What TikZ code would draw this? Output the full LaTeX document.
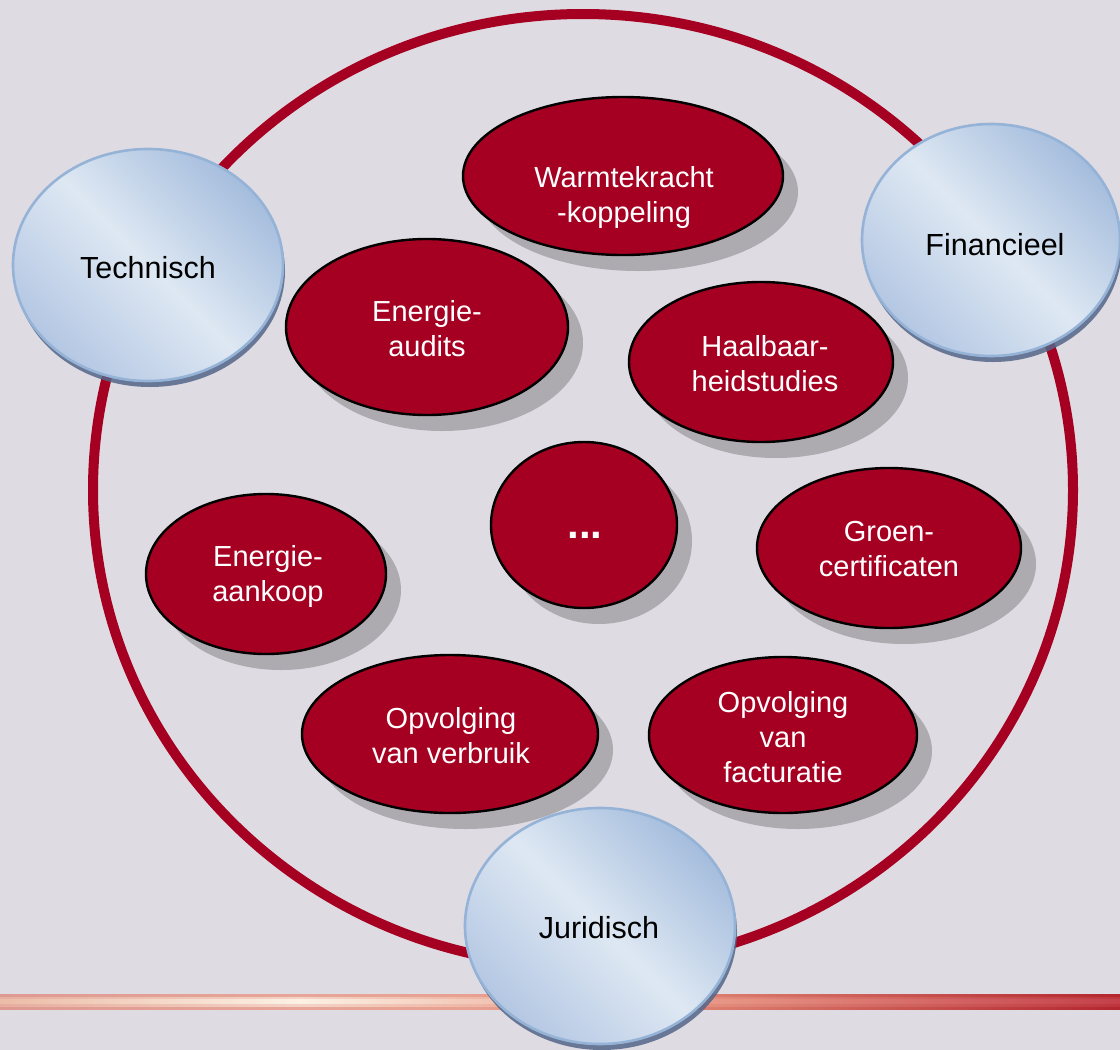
\documentclass[tikz,border=0pt]{standalone}
\usepackage{fontspec}
\setmainfont{Liberation Sans}
\usetikzlibrary{shapes.geometric,shadows}
\definecolor{bg}{RGB}{222,219,226}
\definecolor{ruby}{RGB}{165,0,33}
\definecolor{shadowgray}{RGB}{173,171,175}
\definecolor{bluebord}{RGB}{149,179,215}
\definecolor{blueA}{RGB}{165,189,221}
\definecolor{blueB}{RGB}{222,232,243}
\definecolor{blueC}{RGB}{180,199,227}
\definecolor{blueshadow}{RGB}{84,102,136}
\definecolor{oA}{RGB}{222,154,146}
\definecolor{oB}{RGB}{231,166,152}
\definecolor{oC}{RGB}{232,160,144}
\definecolor{oD}{RGB}{221,128,112}
\definecolor{oE}{RGB}{179,38,46}
\definecolor{iA}{RGB}{236,188,168}
\definecolor{iB}{RGB}{252,241,228}
\definecolor{iC}{RGB}{243,200,184}
\definecolor{iD}{RGB}{233,154,136}
\definecolor{iE}{RGB}{196,64,74}
\pgfdeclarehorizontalshading{barouter}{100bp}{color(0bp)=(oA); color(25bp)=(oA); color(38.4bp)=(oB); color(46bp)=(oC); color(56.25bp)=(oD); color(75bp)=(oE); color(100bp)=(oE)}
\pgfdeclarehorizontalshading{barinner}{100bp}{color(0bp)=(iA); color(25bp)=(iA); color(38.4bp)=(iB); color(46bp)=(iC); color(56.25bp)=(iD); color(75bp)=(iE); color(100bp)=(iE)}
\tikzset{
  redell/.style={ellipse, draw=black, line width=2.4pt, fill=ruby, inner sep=0pt,
    drop shadow={shadow xshift=15pt, shadow yshift=-16pt, fill=shadowgray, opacity=1}},
  redtxt/.style={text=white, align=center, inner sep=0pt,
    font=\fontsize{29}{35}\selectfont},
  bluell/.style={ellipse, draw=bluebord, line width=2.6pt, inner sep=0pt,
    top color=blueA, bottom color=blueC, middle color=blueB, shading angle=-45,
    drop shadow={shadow xshift=2pt, shadow yshift=-6pt, fill=blueshadow, opacity=0.85}},
  bluetxt/.style={text=black, inner sep=0pt, font=\fontsize{30.5}{36}\selectfont},
}
\begin{document}
\begin{tikzpicture}[x=1pt,y=-1pt]
\fill[bg] (0,0) rectangle (1120,1050);
\useasboundingbox (0,0) rectangle (1120,1050);
% decorative bar
\shade[shading=barouter] (0,994) rectangle (1120,1009);
\shade[shading=barinner, opacity=0.6] (0,997) rectangle (1120,1006);
\shade[shading=barinner] (0,999.5) rectangle (1120,1003.5);
% ring
\draw[ruby, line width=10pt] (583,490) ellipse [x radius=490pt, y radius=476pt];
% red ellipses
\node[redell, minimum width=320pt, minimum height=158pt] (e1) at (623,176) {};
\node[redtxt] (t1) at (624,197) {Warmtekracht\\-koppeling};
\node[redell, minimum width=282pt, minimum height=176pt] (e2) at (427,327) {};
\node[redtxt] (t2) at (427,329) {Energie-\\audits};
\node[redell, minimum width=264pt, minimum height=160pt] (e3) at (761,362) {};
\node[redtxt] (t3) at (765,364) {Haalbaar-\\heidstudies};
\node[redell, minimum width=186pt, minimum height=166pt] (e4) at (584,525) {};
\node[redtxt, anchor=base, font=\fontsize{42}{48}\selectfont\bfseries] (t4) at (585,538) {...};
\node[redell, minimum width=264pt, minimum height=160pt] (e5) at (889,548) {};
\node[redtxt] (t5) at (889,549) {Groen-\\certificaten};
\node[redell, minimum width=240pt, minimum height=160pt] (e6) at (266,574) {};
\node[redtxt] (t6) at (268,576) {Energie-\\aankoop};
\node[redell, minimum width=296pt, minimum height=158pt] (e7) at (450,734) {};
\node[redtxt] (t7) at (451,736) {Opvolging\\van verbruik};
\node[redell, minimum width=268pt, minimum height=156pt] (e8) at (783,735) {};
\node[redtxt] (t8) at (783,737) {Opvolging\\van\\facturatie};
% blue ellipses
\node[bluell, minimum width=270pt, minimum height=232pt] (b1) at (148,265) {};
\node[bluetxt] (l1) at (148,268) {Technisch};
\node[bluell, minimum width=258pt, minimum height=232pt] (b2) at (991,240) {};
\node[bluetxt] (l2) at (995,245) {Financieel};
\node[bluell, minimum width=270pt, minimum height=236pt] (b3) at (600,926) {};
\node[bluetxt] (l3) at (599,928) {Juridisch};
\end{tikzpicture}
\end{document}
